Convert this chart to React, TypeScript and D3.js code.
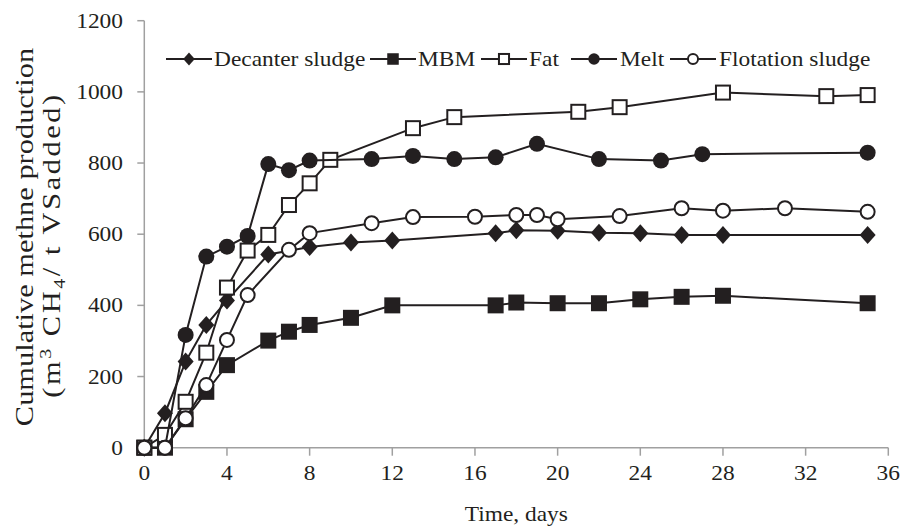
import React from "react";
import * as d3 from "d3";

const xTicks = [0, 4, 8, 12, 16, 20, 24, 28, 32, 36];
const yTicks = [0, 200, 400, 600, 800, 1000, 1200];

const decanterDays = [0, 1, 2, 3, 4, 6, 8, 10, 12, 17, 18, 20, 22, 24, 26, 28, 35];
const decanterVals = [0, 97, 242, 345, 414, 543, 564, 577, 582, 603, 611, 610, 604, 603, 598, 598, 598];

const mbmDays = [0, 1, 2, 3, 4, 6, 7, 8, 10, 12, 17, 18, 20, 22, 24, 26, 28, 35];
const mbmVals = [0, 0, 80, 157, 232, 301, 326, 345, 365, 400, 400, 408, 406, 406, 417, 424, 427, 406];

const fatDays = [0, 1, 2, 3, 4, 5, 6, 7, 8, 9, 13, 15, 21, 23, 28, 33, 35];
const fatVals = [0, 36, 129, 267, 450, 554, 598, 682, 743, 809, 898, 929, 944, 957, 998, 988, 991];

const meltDays = [0, 1, 2, 3, 4, 5, 6, 7, 8, 11, 13, 15, 17, 19, 22, 25, 27, 35];
const meltVals = [0, 0, 317, 537, 565, 595, 797, 780, 807, 811, 820, 811, 816, 854, 811, 807, 825, 829];

const flotDays = [0, 1, 2, 3, 4, 5, 7, 8, 11, 13, 16, 18, 19, 20, 23, 26, 28, 31, 35];
const flotVals = [0, 0, 83, 176, 303, 429, 556, 603, 631, 648, 649, 654, 654, 642, 651, 673, 666, 673, 663];

const seriesNames = ["Decanter sludge", "MBM", "Fat", "Melt", "Flotation sludge"];

type Marker = "diamond" | "square" | "openSquare" | "circle" | "openCircle";

const INK = "#231f20";
const AXIS = "#a0a0a0";
const FONT = "'Liberation Serif', 'Times New Roman', serif";
const SX = 1.17;

function MarkerShape({ kind, x, y, s = 1 }: { kind: Marker; x: number; y: number; s?: number }) {
  if (kind === "diamond") {
    const w = 8 * s, h = 9 * s;
    return <path d={`M${x},${y - h}L${x + w},${y}L${x},${y + h}L${x - w},${y}Z`} fill={INK} />;
  }
  if (kind === "square") {
    const a = 8 * s;
    return <rect x={x - a} y={y - a} width={2 * a} height={2 * a} fill={INK} />;
  }
  if (kind === "openSquare") {
    const a = 7 * s;
    return <rect x={x - a} y={y - a} width={2 * a} height={2 * a} fill="#fff" stroke={INK} strokeWidth={2} />;
  }
  if (kind === "circle") {
    return <circle cx={x} cy={y} r={8 * s} fill={INK} />;
  }
  return <circle cx={x} cy={y} r={7 * s} fill="#fff" stroke={INK} strokeWidth={2} />;
}

// text widened along its baseline (the reference face is wide)
function SText({ x, y, children, anchor = "start", size = 20, rotate = 0, spacing = 0 }: any) {
  return (
    <text
      transform={`translate(${x},${y})${rotate ? ` rotate(${rotate})` : ""} scale(${SX},1)`}
      textAnchor={anchor}
      fontFamily={FONT}
      fontSize={size}
      letterSpacing={spacing}
      fill={INK}
    >
      {children}
    </text>
  );
}

export default function App() {
  const x = d3.scaleLinear().domain([0, 36]).range([144.3, 888.3]);
  const y = d3.scaleLinear().domain([0, 1200]).range([447.7, 20.7]);

  const series: { days: number[]; vals: number[]; marker: Marker }[] = [
    { days: decanterDays, vals: decanterVals, marker: "diamond" },
    { days: mbmDays, vals: mbmVals, marker: "square" },
    { days: fatDays, vals: fatVals, marker: "openSquare" },
    { days: meltDays, vals: meltVals, marker: "circle" },
    { days: flotDays, vals: flotVals, marker: "openCircle" },
  ];

  const line = d3
    .line<[number, number]>()
    .x((d) => x(d[0]))
    .y((d) => y(d[1]));

  const legendItems = [
    { lx: 166, tx: 214 },
    { lx: 370, tx: 418 },
    { lx: 481, tx: 529 },
    { lx: 571, tx: 620 },
    { lx: 670, tx: 719 },
  ];
  const legY = 59;

  const x0 = x(0);
  const yBase = y(0);

  return (
    <svg width={902} height={529} style={{ position: "absolute", left: 0, top: 0, background: "#fff" }}>
      <rect width={902} height={529} fill="#fff" />
      {/* axes */}
      <line x1={x0} x2={x0} y1={y(1200)} y2={yBase} stroke={AXIS} strokeWidth={1.5} />
      <line x1={x0} x2={x(36)} y1={yBase} y2={yBase} stroke={AXIS} strokeWidth={1.5} />
      {yTicks.map((t) => (
        <g key={"y" + t}>
          <line x1={x0 - 7} x2={x0} y1={y(t)} y2={y(t)} stroke={AXIS} strokeWidth={1.5} />
          <SText x={123} y={y(t) + 7} anchor="end">
            {t}
          </SText>
        </g>
      ))}
      {xTicks.map((t) => (
        <g key={"x" + t}>
          <line x1={x(t)} x2={x(t)} y1={yBase} y2={yBase + 8} stroke={AXIS} strokeWidth={1.5} />
          <SText x={x(t)} y={480} anchor="middle">
            {t}
          </SText>
        </g>
      ))}
      <SText x={x(18)} y={521} anchor="middle">
        Time, days
      </SText>
      <SText x={33} y={237} anchor="middle" rotate={-90} size={26}>
        Cumulative methne production
      </SText>
      <SText x={60} y={245} anchor="middle" rotate={-90} size={26} spacing={2.2}>
        (m
        <tspan fontSize={17} dy={-9}>3</tspan>
        <tspan dy={9}> CH</tspan>
        <tspan fontSize={17} dy={5}>4</tspan>
        <tspan dy={-5}>/ t VSadded)</tspan>
      </SText>

      {/* series */}
      {series.map((s, i) => {
        const pts = s.days.map((d, j) => [d, s.vals[j]] as [number, number]);
        return (
          <g key={i}>
            <path d={line(pts) || ""} fill="none" stroke={INK} strokeWidth={2} />
            {pts.map((p, j) => (
              <MarkerShape key={j} kind={s.marker} x={x(p[0])} y={y(p[1])} />
            ))}
          </g>
        );
      })}

      {/* legend */}
      {series.map((s, i) => {
        const it = legendItems[i];
        return (
          <g key={"l" + i}>
            <line x1={it.lx} x2={it.lx + 46} y1={legY} y2={legY} stroke={INK} strokeWidth={2} />
            <MarkerShape kind={s.marker} x={it.lx + 23} y={legY} s={0.72} />
            <SText x={it.tx} y={legY + 7}>
              {seriesNames[i]}
            </SText>
          </g>
        );
      })}
    </svg>
  );
}
